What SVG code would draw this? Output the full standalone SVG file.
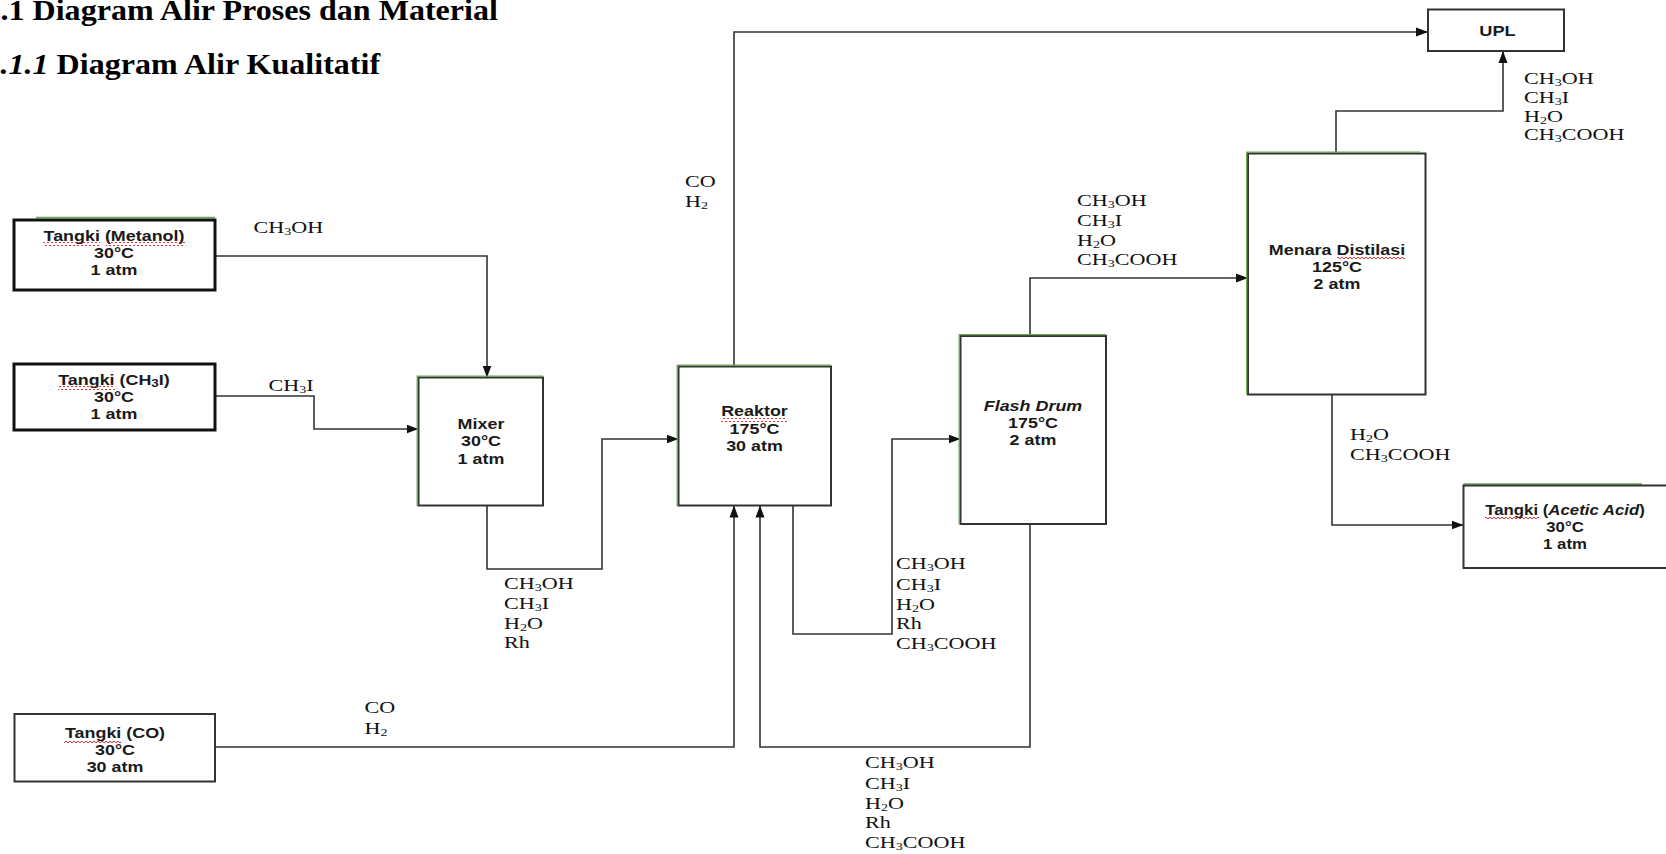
<svg xmlns="http://www.w3.org/2000/svg" width="1666" height="854" viewBox="0 0 1666 854">
<style>
.bg{fill:#fff}
.box{fill:#fff;stroke:#333;stroke-width:2}
.tank{fill:#fff;stroke:#111;stroke-width:3}
.grn{fill:none;stroke:#6aa84f;stroke-width:1.3}
.con{fill:none;stroke:#333;stroke-width:1.6;marker-end:url(#ah)}
.bt{font-family:"Liberation Sans",Arial,sans-serif;font-weight:bold;font-size:14px;fill:#1a1a1a;text-anchor:middle}
.lb{font-family:"Liberation Serif","Times New Roman",serif;font-size:16.5px;fill:#111}
.s{font-size:10.5px}
.ttl{font-family:"Liberation Serif","Times New Roman",serif;font-weight:bold;font-size:28.5px;fill:#000}
</style>
<defs>
<marker id="ah" markerWidth="12" markerHeight="10" refX="12" refY="5" orient="auto" markerUnits="userSpaceOnUse">
<path d="M0,0.5 L12,5 L0,9.5 z" fill="#111"/>
</marker>
<pattern id="sq" width="4" height="4" patternUnits="userSpaceOnUse">
<path d="M0,3 L2,1 L4,3" fill="none" stroke="#e02020" stroke-width="0.9"/>
</pattern>
</defs>
<rect class="bg" x="0" y="0" width="1666" height="854"/>

<g id="title">
<g transform="translate(0.5,0) scale(1.125,1)">
<text class="ttl" x="0" y="20">.1 Diagram Alir Proses dan Material</text>
<text class="ttl" x="0" y="74"><tspan font-style="italic">.1.1</tspan> Diagram Alir Kualitatif</text>
</g>
</g>

<g id="connectors">
<path class="con" d="M215,256 H487 V377.5"/>
<path class="con" d="M215,396 H314 V429 H418.5"/>
<path class="con" d="M487,505.5 V569 H602 V439 H678.5"/>
<path class="con" d="M734,366.5 V32 H1428"/>
<path class="con" d="M215,747 H734 V505.5"/>
<path class="con" d="M793,505.5 V634 H892 V439 H960.5"/>
<path class="con" d="M1030,336 V278 H1248"/>
<path class="con" d="M1030,524 V747 H760 V505.5"/>
<path class="con" d="M1336,153.5 V111 H1503 V51"/>
<path class="con" d="M1332,394.5 V525 H1463.5"/>
</g>

<g id="tangki-metanol">
<line class="grn" x1="36" y1="217.5" x2="215" y2="217.5"/>
<rect class="tank" x="14" y="220" width="201" height="70"/>
<g transform="translate(114,0) scale(1.28,1)">
<text class="bt" x="0" y="241">Tangki (Metanol)</text>
<text class="bt" x="0" y="258">30°C</text>
<text class="bt" x="0" y="275">1 atm</text>
</g>
<rect x="43" y="242" width="57" height="4" fill="url(#sq)"/>
<rect x="106" y="242" width="79" height="4" fill="url(#sq)"/>
</g>

<g id="tangki-ch3i">
<rect class="tank" x="14" y="364" width="201" height="66"/>
<g transform="translate(114,0) scale(1.28,1)">
<text class="bt" x="0" y="385">Tangki (CH<tspan class="s" dy="2">3</tspan><tspan dy="-2">I)</tspan></text>
<text class="bt" x="0" y="402">30°C</text>
<text class="bt" x="0" y="419">1 atm</text>
</g>
<rect x="58" y="386" width="57" height="4" fill="url(#sq)"/>
</g>

<g id="tangki-co">
<rect class="box" x="14.5" y="714" width="200.5" height="67.5" stroke="#222"/>
<g transform="translate(115,0) scale(1.28,1)">
<text class="bt" x="0" y="738">Tangki (CO)</text>
<text class="bt" x="0" y="755">30°C</text>
<text class="bt" x="0" y="772">30 atm</text>
</g>
<rect x="64" y="739" width="57" height="4" fill="url(#sq)"/>
</g>

<g id="mixer">
<rect class="box" x="418.5" y="377.5" width="124.5" height="128"/>
<path class="grn" d="M417.2,506 V376.2 H543"/>
<g transform="translate(481,0) scale(1.28,1)">
<text class="bt" x="0" y="429">Mixer</text>
<text class="bt" x="0" y="446.5">30°C</text>
<text class="bt" x="0" y="464">1 atm</text>
</g>
</g>

<g id="reaktor">
<rect class="box" x="678.5" y="366.5" width="152.5" height="139"/>
<path class="grn" d="M677.2,506 V365.2 H831"/>
<g transform="translate(754.5,0) scale(1.28,1)">
<text class="bt" x="0" y="416.5">Reaktor</text>
<text class="bt" x="0" y="434">175°C</text>
<text class="bt" x="0" y="451.5">30 atm</text>
</g>
<rect x="721" y="418" width="66" height="4" fill="url(#sq)"/>
</g>

<g id="flash-drum">
<rect class="box" x="960.5" y="336" width="145.5" height="188"/>
<path class="grn" d="M959.2,524 V334.7 H1106"/>
<g transform="translate(1033,0) scale(1.28,1)">
<text class="bt" x="0" y="411" font-style="italic">Flash Drum</text>
<text class="bt" x="0" y="428">175°C</text>
<text class="bt" x="0" y="445.5">2 atm</text>
</g>
</g>

<g id="menara-distilasi">
<rect class="box" x="1248" y="153.5" width="177.5" height="241"/>
<path class="grn" d="M1246.7,394.5 V152.2 H1420"/>
<g transform="translate(1337,0) scale(1.28,1)">
<text class="bt" x="0" y="255">Menara Distilasi</text>
<text class="bt" x="0" y="272">125°C</text>
<text class="bt" x="0" y="289">2 atm</text>
</g>
<rect x="1337" y="256" width="68" height="4" fill="url(#sq)"/>
</g>

<g id="upl">
<rect class="box" x="1428" y="9.5" width="136" height="41.5" stroke-width="1.6"/>
<g transform="translate(1497.5,0) scale(1.3,1)">
<text class="bt" x="0" y="36" font-size="15">UPL</text>
</g>
</g>

<g id="tangki-acetic-acid">
<line class="grn" x1="1463.5" y1="484" x2="1642" y2="484"/>
<rect class="box" x="1463.5" y="485.5" width="220" height="82.5"/>
<g transform="translate(1565,0) scale(1.2,1)">
<text class="bt" x="0" y="515">Tangki (<tspan font-style="italic">Acetic Acid</tspan>)</text>
<text class="bt" x="0" y="532">30°C</text>
<text class="bt" x="0" y="549">1 atm</text>
</g>
<rect x="1485" y="516" width="54" height="4" fill="url(#sq)"/>
</g>

<g id="labels">
<g transform="translate(253.5,0) scale(1.34,1)">
<text class="lb" y="233">CH<tspan class="s" dy="2">3</tspan><tspan dy="-2">OH</tspan></text>
</g>
<g transform="translate(268.5,0) scale(1.34,1)">
<text class="lb" y="391">CH<tspan class="s" dy="2">3</tspan><tspan dy="-2">I</tspan></text>
</g>
<g transform="translate(504,0) scale(1.34,1)">
<text class="lb" y="589">CH<tspan class="s" dy="2">3</tspan><tspan dy="-2">OH</tspan></text>
<text class="lb" y="609">CH<tspan class="s" dy="2">3</tspan><tspan dy="-2">I</tspan></text>
<text class="lb" y="629">H<tspan class="s" dy="2">2</tspan><tspan dy="-2">O</tspan></text>
<text class="lb" y="648.5">Rh</text>
</g>
<g transform="translate(685,0) scale(1.34,1)">
<text class="lb" y="187">CO</text>
<text class="lb" y="207">H<tspan class="s" dy="2">2</tspan></text>
</g>
<g transform="translate(364.5,0) scale(1.34,1)">
<text class="lb" y="713">CO</text>
<text class="lb" y="734">H<tspan class="s" dy="2">2</tspan></text>
</g>
<g transform="translate(896,0) scale(1.34,1)">
<text class="lb" y="569">CH<tspan class="s" dy="2">3</tspan><tspan dy="-2">OH</tspan></text>
<text class="lb" y="590">CH<tspan class="s" dy="2">3</tspan><tspan dy="-2">I</tspan></text>
<text class="lb" y="610">H<tspan class="s" dy="2">2</tspan><tspan dy="-2">O</tspan></text>
<text class="lb" y="629">Rh</text>
<text class="lb" y="649">CH<tspan class="s" dy="2">3</tspan><tspan dy="-2">COOH</tspan></text>
</g>
<g transform="translate(865,0) scale(1.34,1)">
<text class="lb" y="768">CH<tspan class="s" dy="2">3</tspan><tspan dy="-2">OH</tspan></text>
<text class="lb" y="789">CH<tspan class="s" dy="2">3</tspan><tspan dy="-2">I</tspan></text>
<text class="lb" y="809">H<tspan class="s" dy="2">2</tspan><tspan dy="-2">O</tspan></text>
<text class="lb" y="828.5">Rh</text>
<text class="lb" y="848">CH<tspan class="s" dy="2">3</tspan><tspan dy="-2">COOH</tspan></text>
</g>
<g transform="translate(1077,0) scale(1.34,1)">
<text class="lb" y="206">CH<tspan class="s" dy="2">3</tspan><tspan dy="-2">OH</tspan></text>
<text class="lb" y="226">CH<tspan class="s" dy="2">3</tspan><tspan dy="-2">I</tspan></text>
<text class="lb" y="246">H<tspan class="s" dy="2">2</tspan><tspan dy="-2">O</tspan></text>
<text class="lb" y="265">CH<tspan class="s" dy="2">3</tspan><tspan dy="-2">COOH</tspan></text>
</g>
<g transform="translate(1524,0) scale(1.34,1)">
<text class="lb" y="84">CH<tspan class="s" dy="2">3</tspan><tspan dy="-2">OH</tspan></text>
<text class="lb" y="103.5">CH<tspan class="s" dy="2">3</tspan><tspan dy="-2">I</tspan></text>
<text class="lb" y="122">H<tspan class="s" dy="2">2</tspan><tspan dy="-2">O</tspan></text>
<text class="lb" y="140.5">CH<tspan class="s" dy="2">3</tspan><tspan dy="-2">COOH</tspan></text>
</g>
<g transform="translate(1350,0) scale(1.34,1)">
<text class="lb" y="440.5">H<tspan class="s" dy="2">2</tspan><tspan dy="-2">O</tspan></text>
<text class="lb" y="460.5">CH<tspan class="s" dy="2">3</tspan><tspan dy="-2">COOH</tspan></text>
</g>
</g>
</svg>
